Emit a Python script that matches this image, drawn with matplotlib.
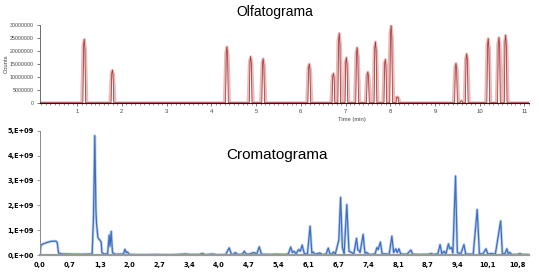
import numpy as np
import matplotlib.pyplot as plt
from matplotlib.ticker import MultipleLocator

# olfatograma: peak retention times (min) and heights (counts)
olf_t = [1.16, 1.79, 4.35, 4.88, 5.16, 6.19, 6.73, 6.86, 7.02, 7.26, 7.50, 7.67, 7.89, 8.02, 8.16,
         9.47, 9.59, 9.71, 10.19, 10.43, 10.58]
olf_h = [24.5e6, 12.6e6, 21.6e6, 17.8e6, 17.0e6, 15.0e6, 11.3e6, 26.8e6, 17.4e6, 21.3e6, 11.9e6, 23.5e6,
         16.7e6, 29.8e6, 2.3e6, 15.2e6, 0.7e6, 18.9e6, 24.8e6, 25.2e6, 26.1e6]

# cromatograma trace
cro_t = [0.00, 0.02, 0.06, 0.15, 0.25, 0.36, 0.39, 0.42, 0.50, 0.80, 1.00, 1.18, 1.21, 1.24, 1.265, 1.28,
         1.31, 1.36, 1.385, 1.40, 1.45, 1.53, 1.565, 1.585, 1.61, 1.64, 1.70, 1.89, 1.92, 1.95, 1.98, 2.02,
         2.3, 2.6, 2.9, 3.1, 3.3, 3.4, 3.6, 3.68, 3.74, 3.9, 4.0, 4.2, 4.28, 4.33, 4.38, 4.42, 4.47, 4.58,
         4.62, 4.67, 4.75, 4.80, 4.85, 4.9, 4.96, 5.01, 5.2, 5.35, 5.55, 5.62, 5.67, 5.71, 5.75, 5.79, 5.85,
         5.89, 5.93, 5.98, 6.05, 6.11, 6.15, 6.18, 6.22, 6.33, 6.38, 6.47, 6.52, 6.56, 6.61, 6.64, 6.68,
         6.73, 6.76, 6.80, 6.84, 6.88, 6.94, 6.99, 7.05, 7.10, 7.16, 7.19, 7.21, 7.24, 7.31, 7.35, 7.39,
         7.45, 7.58, 7.62, 7.65, 7.70, 7.74, 7.85, 7.90, 7.96, 8.00, 8.05, 8.08, 8.12, 8.16, 8.3, 8.39,
         8.43, 8.6, 8.8, 8.85, 8.9, 9.0, 9.05, 9.09, 9.14, 9.18, 9.24, 9.27, 9.31, 9.34, 9.40, 9.44, 9.52,
         9.59, 9.63, 9.8, 9.89, 9.94, 10.02, 10.09, 10.13, 10.22, 10.3, 10.42, 10.46, 10.52, 10.56, 10.59,
         10.63, 10.67, 10.8, 10.86, 10.9, 11.06]
cro_v = [0.00, 0.38, 0.44, 0.50, 0.55, 0.56, 0.50, 0.08, 0.04, 0.03, 0.03, 0.04, 1.50, 4.80, 1.80, 1.25,
         0.70, 0.58, 0.52, 0.10, 0.04, 0.05, 0.80, 0.35, 0.95, 0.10, 0.03, 0.04, 0.23, 0.10, 0.12, 0.02,
         0.01, 0.02, 0.01, 0.02, 0.04, 0.02, 0.02, 0.06, 0.01, 0.04, 0.01, 0.02, 0.29, 0.03, 0.03, 0.10,
         0.02, 0.03, 0.15, 0.03, 0.04, 0.08, 0.10, 0.02, 0.33, 0.03, 0.02, 0.03, 0.02, 0.05, 0.32, 0.10,
         0.15, 0.04, 0.22, 0.15, 0.40, 0.05, 0.05, 1.16, 0.08, 0.12, 0.03, 0.08, 0.02, 0.03, 0.28, 0.04,
         0.05, 0.12, 0.04, 0.40, 0.60, 2.32, 0.30, 0.05, 2.03, 0.15, 0.10, 0.05, 0.67, 0.20, 0.20, 0.10,
         0.83, 0.08, 0.10, 0.02, 0.04, 0.30, 0.22, 0.52, 0.05, 0.04, 0.03, 0.76, 0.10, 0.25, 0.10, 0.25,
         0.04, 0.03, 0.20, 0.03, 0.02, 0.03, 0.06, 0.02, 0.05, 0.42, 0.05, 0.15, 0.03, 0.45, 0.25, 0.30,
         0.08, 3.18, 0.10, 0.05, 0.42, 0.04, 0.03, 1.83, 0.06, 0.04, 0.25, 0.04, 0.06, 0.03, 1.37, 0.05,
         0.06, 0.25, 0.06, 0.10, 0.02, 0.02, 0.06, 0.02, 0.02]
cro_v = [v * 1e9 for v in cro_v]

cro_ticks = [0.0, 0.675, 1.35, 2.025, 2.7, 3.375, 4.05, 4.725, 5.4, 6.075, 6.75, 7.425, 8.1, 8.775,
             9.45, 10.125, 10.8]
cro_labels = ['0,0', '0,7', '1,3', '2,0', '2,7', '3,4', '4,0', '4,7', '5,4', '6,1', '6,7', '7,4',
              '8,1', '8,7', '9,4', '10,1', '10,8']
cro_ylabels = ['0,E+00', '1,E+09', '2,E+09', '3,E+09', '4,E+09', '5,E+09']


def peak_trace(times, heights, w):
    xs, ys = [0.0], [0.0]
    for t, h in zip(times, heights):
        xs += [t - w, t - w * 0.5, t, t + w * 0.5, t + w]
        ys += [0.0, h * 0.9, h, h * 0.85, 0.0]
    xs.append(11.2)
    ys.append(0.0)
    return xs, ys


plt.rcParams['font.family'] = ['Liberation Sans', 'DejaVu Sans']
fig = plt.figure(figsize=(5.39, 2.74), dpi=100)

# --- top: olfatograma
ax1 = fig.add_axes([0.0733, 0.625, 0.908, 0.2836])
px, py = peak_trace(olf_t, olf_h, 0.06)
ax1.plot(px, py, color='#e9bcbc', lw=2.0)
rx, ry = peak_trace(olf_t, olf_h, 0.03)
ax1.plot(rx, ry, color='#a83434', lw=0.55)
ax1.set_xlim(0.16, 11.1)
ax1.set_ylim(0, 30e6)
ax1.set_xticks(range(1, 12))
ax1.xaxis.set_minor_locator(MultipleLocator(0.1))
ax1.set_yticks([0, 5e6, 10e6, 15e6, 20e6, 25e6, 30e6])
ax1.set_yticklabels(['0', '5000000', '10000000', '15000000', '20000000', '25000000', '30000000'])
for s in ['top', 'right']:
    ax1.spines[s].set_visible(False)
ax1.spines['left'].set_color('#555555')
ax1.spines['left'].set_linewidth(0.6)
ax1.spines['bottom'].set_color('#3a1010')
ax1.spines['bottom'].set_linewidth(0.8)
ax1.tick_params(axis='both', which='major', labelsize=4.2, colors='#444444', length=2.5, width=0.5, pad=2)
ax1.tick_params(axis='y', labelsize=3.8, pad=1.5)
ax1.tick_params(axis='x', which='minor', length=1.5, width=0.4, colors='#444444')
ax1.set_ylabel('Counts', fontsize=4.2, color='#444444')
ax1.yaxis.set_label_coords(-0.062, 0.5)
ax1.text(7.14, -0.22, 'Time (min)', transform=ax1.get_xaxis_transform(), fontsize=4.2,
         color='#444444', ha='center', va='center')
fig.text(0.51, 0.955, 'Olfatograma', fontsize=10, ha='center', va='center')

# --- bottom: cromatograma
ax2 = fig.add_axes([0.0733, 0.0693, 0.908, 0.4536])
ax2.plot(cro_t, cro_v, color='#bcd0ec', lw=2.0, solid_joinstyle='round')
ax2.plot(cro_t, cro_v, color='#3f6fbf', lw=0.9, solid_joinstyle='round')
ax2.set_xlim(-0.011, 11.06)
ax2.set_ylim(0, 5e9)
ax2.set_xticks(cro_ticks)
ax2.set_xticklabels(cro_labels)
ax2.set_yticks([0, 1e9, 2e9, 3e9, 4e9, 5e9])
ax2.set_yticklabels(cro_ylabels)
for s in ['top', 'right']:
    ax2.spines[s].set_visible(False)
ax2.spines['left'].set_color('#8a8a8a')
ax2.spines['left'].set_linewidth(0.7)
ax2.spines['bottom'].set_color('#9a9a9a')
ax2.spines['bottom'].set_linewidth(1.6)
ax2.tick_params(axis='x', length=0, labelsize=4.8, pad=5)
ax2.tick_params(axis='y', length=2, width=0.6, colors='#8a8a8a', labelsize=4.8, pad=2)
for lab in ax2.get_xticklabels() + ax2.get_yticklabels():
    lab.set_fontweight('bold')
    lab.set_color('black')
    lab.set_family('DejaVu Sans')
fig.text(0.514, 0.433, 'Cromatograma', fontsize=11, ha='center', va='center')

fig.savefig('out.png', dpi=100)
